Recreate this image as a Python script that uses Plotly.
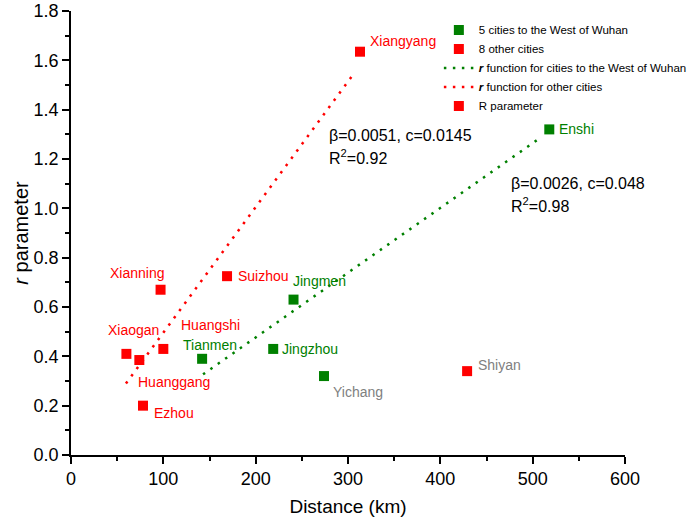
import plotly.graph_objects as go

# ---------------- data ----------------
west_names = ["Tianmen", "Jingzhou", "Jingmen", "Yichang", "Enshi"]
west_dist = [142, 219, 241, 274, 518]
west_r = [0.39, 0.43, 0.63, 0.32, 1.32]

other_names = ["Xiangyang", "Suizhou", "Xianning", "Xiaogan", "Huanggang", "Huangshi", "Ezhou", "Shiyan"]
other_dist = [313, 169, 97, 60, 74, 100, 78, 429]
other_r = [1.635, 0.725, 0.67, 0.41, 0.385, 0.43, 0.20, 0.34]

west_fit_x = [143, 506]
west_fit_y = [0.327, 1.28]
other_fit_x = [59.5, 307]
other_fit_y = [0.29, 1.55]

x_ticks = [0, 100, 200, 300, 400, 500, 600]
y_ticks = [0.0, 0.2, 0.4, 0.6, 0.8, 1.0, 1.2, 1.4, 1.6, 1.8]

west_fit_text = ["β=0.0026, c=0.048", "R<sup>2</sup>=0.98"]
other_fit_text = ["β=0.0051, c=0.0145", "R<sup>2</sup>=0.92"]

# ---------------- styles ----------------
GREEN = "#008000"
RED = "#FF0000"
GRAY = "#808080"
FONT = "Arial, Liberation Sans, sans-serif"

# label placement: (xanchor, xshift, yshift, color)
label_style = {
    "Tianmen": ("center", 8, 14, GREEN),
    "Jingzhou": ("left", 7, 0, GREEN),
    "Jingmen": ("left", -3, 19, GREEN),
    "Yichang": ("left", 7, -16, GRAY),
    "Enshi": ("left", 8, 0, GREEN),
    "Xiangyang": ("left", 8, 11, RED),
    "Suizhou": ("left", 9, 0, RED),
    "Xianning": ("center", -23, 17, RED),
    "Xiaogan": ("center", 7, 24, RED),
    "Huanggang": ("left", -3, -22, RED),
    "Huangshi": ("left", 16, 24, RED),
    "Ezhou": ("left", 9, -7, RED),
    "Shiyan": ("left", 9, 6, GRAY),
}

fig = go.Figure()

fig.add_trace(go.Scatter(
    x=west_dist, y=west_r, mode="markers", name="5 cities to the West of Wuhan",
    marker=dict(symbol="square", size=10, color=GREEN)))
fig.add_trace(go.Scatter(
    x=other_dist, y=other_r, mode="markers", name="8 other cities",
    marker=dict(symbol="square", size=10, color=RED)))
fig.add_trace(go.Scatter(
    x=west_fit_x, y=west_fit_y, mode="lines",
    name="<b><i>r</i></b> function for cities to the West of Wuhan",
    line=dict(color=GREEN, width=2.5, dash="2.5px,6.5px")))
fig.add_trace(go.Scatter(
    x=other_fit_x, y=other_fit_y, mode="lines",
    name="<b><i>r</i></b> function for other cities",
    line=dict(color=RED, width=2.5, dash="2.5px,6.5px")))
fig.add_trace(go.Scatter(
    x=[None], y=[None], mode="markers", name="R parameter",
    marker=dict(symbol="square", size=10, color=RED)))

annotations = []
for names, xs, ys in [(west_names, west_dist, west_r), (other_names, other_dist, other_r)]:
    for n, xv, yv in zip(names, xs, ys):
        anc, xs_, ys_, col = label_style[n]
        annotations.append(dict(
            x=xv, y=yv, text=n, showarrow=False, xanchor=anc, yanchor="middle",
            xshift=xs_, yshift=ys_, font=dict(family=FONT, size=14, color=col)))

# fit annotations
for i, t in enumerate(other_fit_text):
    annotations.append(dict(x=277, y=[1.297, 1.208][i], text=t, showarrow=False,
                            xanchor="left", yanchor="middle",
                            font=dict(family=FONT, size=16, color="black")))
for i, t in enumerate(west_fit_text):
    annotations.append(dict(x=474, y=[1.099, 1.013][i], text=t, showarrow=False,
                            xanchor="left", yanchor="middle",
                            font=dict(family=FONT, size=16, color="black")))

axis_common = dict(
    showline=True, linecolor="black", linewidth=1.5, mirror=False,
    ticks="outside", ticklen=7, tickwidth=1.5, tickcolor="black",
    showgrid=False, zeroline=False, automargin=False,
    tickfont=dict(family=FONT, size=18, color="black"),
)

fig.update_layout(
    width=689, height=527,
    margin=dict(l=71, r=64, t=11, b=72, autoexpand=False),
    plot_bgcolor="white", paper_bgcolor="white",
    font=dict(family=FONT),
    showlegend=True,
    legend=dict(x=0.664, y=0.99, xanchor="left", yanchor="top",
                bgcolor="rgba(0,0,0,0)", font=dict(family=FONT, size=11.5, color="black"),
                tracegroupgap=0),
    annotations=annotations,
    xaxis=dict(range=[0, 600], tickvals=x_ticks, ticktext=[str(v) for v in x_ticks],
               minor=dict(ticks="outside", ticklen=4, tickwidth=1.5, tickcolor="black", dtick=50),
               title=dict(text="Distance (km)", font=dict(family=FONT, size=19, color="black"),
                          standoff=11),
               **axis_common),
    yaxis=dict(range=[0, 1.8], tickvals=y_ticks, ticktext=[f"{v:.1f}" for v in y_ticks],
               minor=dict(ticks="outside", ticklen=4, tickwidth=1.5, tickcolor="black", dtick=0.1),
               title=dict(text="<i>r</i> parameter", font=dict(family=FONT, size=20, color="black"),
                          standoff=0),
               **axis_common),
)

fig.write_html("out.html", config={"displayModeBar": False},
               post_script="document.body.style.margin='0';")
